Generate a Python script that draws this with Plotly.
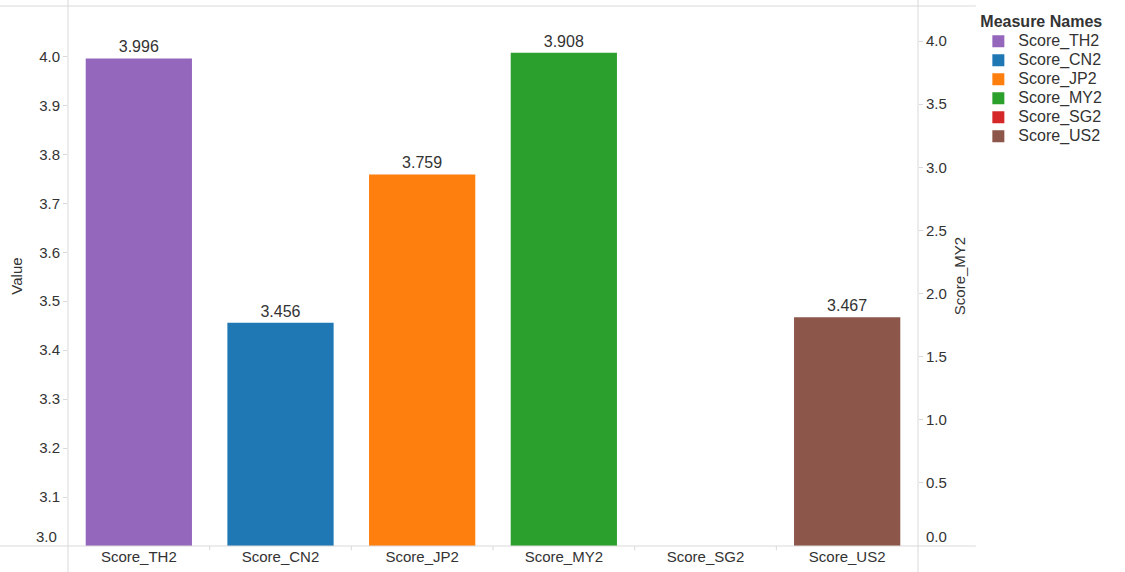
import plotly.graph_objects as go

# Measures and their scores
measures = ["Score_TH2", "Score_CN2", "Score_JP2", "Score_MY2", "Score_SG2", "Score_US2"]
scores = [3.996, 3.456, 3.759, 3.908, None, 3.467]
colors = ["#9467bd", "#1f77b4", "#ff7f0e", "#2ca02c", "#d62728", "#8c564b"]
# Score_MY2 is plotted against its own (right-hand) axis
right_axis_measure = "Score_MY2"

left_ticks = [3.1, 3.2, 3.3, 3.4, 3.5, 3.6, 3.7, 3.8, 3.9, 4.0]
right_ticks = [0.5, 1.0, 1.5, 2.0, 2.5, 3.0, 3.5, 4.0]
left_base, right_base = 3.0, 0.0

FONT = "Liberation Sans, Arial, sans-serif"
GRID = "#d9d9d9"
TXT = "#333333"

fig = go.Figure()
for name, val, col in zip(measures, scores, colors):
    fig.add_trace(go.Bar(
        x=[name], y=[val],
        name=f"<span style='font-size:16px'>{name}</span>",
        marker=dict(color=col, line=dict(width=0)),
        width=0.75,
        yaxis="y2" if name == right_axis_measure else "y",
        text=[f"{val:.3f}" if val is not None else ""],
        textposition="outside", cliponaxis=False,
        textfont=dict(size=16, color=TXT, family=FONT),
        showlegend=True,
    ))

shapes = []
# frame lines running through the whole view
shapes.append(dict(type="line", xref="paper", yref="paper", x0=-0.09, x1=1.068, y0=1, y1=1,
                   line=dict(color=GRID, width=1)))
shapes.append(dict(type="line", xref="paper", yref="paper", x0=-0.09, x1=1.068, y0=0, y1=0,
                   line=dict(color=GRID, width=1)))
shapes.append(dict(type="line", xref="paper", yref="paper", x0=0, x1=0, y0=-0.06, y1=1.02,
                   line=dict(color=GRID, width=1)))
shapes.append(dict(type="line", xref="paper", yref="paper", x0=1, x1=1, y0=-0.06, y1=1.02,
                   line=dict(color=GRID, width=1)))
# short dividers between categories under the axis
for i in range(len(measures) - 1):
    shapes.append(dict(type="line", xref="x", yref="paper", x0=i + 0.5, x1=i + 0.5,
                       y0=-0.008, y1=0, line=dict(color=GRID, width=1)))

annotations = [
    dict(xref="paper", yref="y", x=0, y=left_base, text=f"{left_base:.1f}", showarrow=False,
         xanchor="right", yanchor="middle", xshift=-9, yshift=10,
         font=dict(size=15, color=TXT, family=FONT)),
    dict(xref="paper", yref="y2", x=1, y=right_base, text=f"{right_base:.1f}", showarrow=False,
         xanchor="left", yanchor="middle", xshift=6, yshift=10,
         font=dict(size=15, color=TXT, family=FONT)),
]

fig.update_layout(
    width=1125, height=572,
    margin=dict(l=68, r=207, t=6, b=26),
    paper_bgcolor="white", plot_bgcolor="white",
    barmode="overlay",
    font=dict(family=FONT, size=15, color=TXT),
    shapes=shapes, annotations=annotations,
    xaxis=dict(
        type="category", categoryorder="array", categoryarray=measures,
        showline=False, showgrid=False, zeroline=False, ticks="",
        tickfont=dict(size=15, color=TXT), range=[-0.5, len(measures) - 0.5],
    ),
    yaxis=dict(
        range=[left_base, 4.103], tickvals=left_ticks, ticktext=[f"{t:.1f}" for t in left_ticks],
        showgrid=False, zeroline=False, showline=False,
        ticks="outside", ticklen=4, tickcolor=GRID,
        tickfont=dict(size=15, color=TXT),
        title=dict(text="Value", font=dict(size=15, color=TXT), standoff=12),
    ),
    yaxis2=dict(
        overlaying="y", side="right",
        range=[right_base, 4.278], tickvals=right_ticks, ticktext=[f"{t:.1f}" for t in right_ticks],
        showgrid=False, zeroline=False, showline=False,
        ticks="outside", ticklen=4, tickcolor=GRID,
        tickfont=dict(size=15, color=TXT),
        title=dict(text="Score_MY2", font=dict(size=15, color=TXT), standoff=8),
    ),
    legend=dict(
        x=1.071, xanchor="left", y=1.0, yanchor="top",
        title=dict(text="<b>Measure Names</b>", font=dict(size=16, color=TXT)),
        font=dict(size=12, color=TXT),
        itemwidth=30, tracegroupgap=0,
        bgcolor="rgba(0,0,0,0)",
    ),
)

fig.write_html("out.html")
